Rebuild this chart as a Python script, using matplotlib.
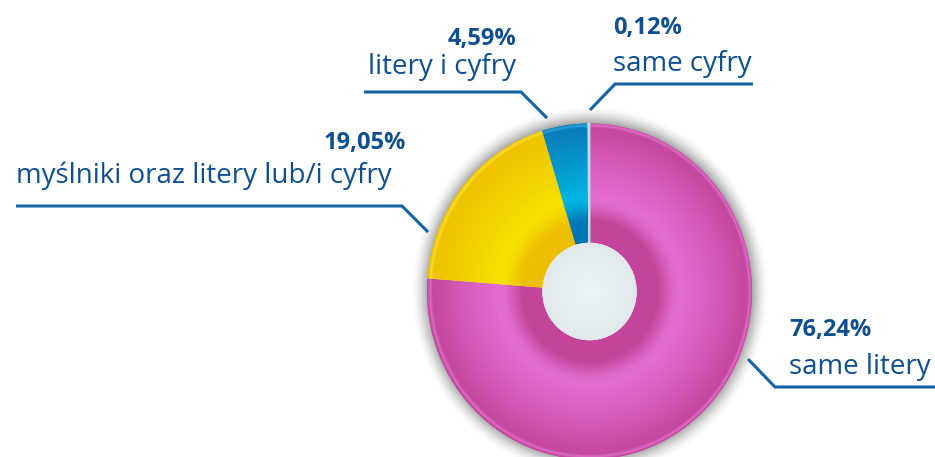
import numpy as np
import matplotlib
matplotlib.use("Agg")
import matplotlib.pyplot as plt
from matplotlib.colors import to_rgb
from matplotlib.patches import Circle

# data
labels = ["same litery", "myślniki oraz litery lub/i cyfry", "litery i cyfry", "same cyfry"]
values = [76.24, 19.05, 4.59, 0.12]
pct_labels = ["76,24%", "19,05%", "4,59%", "0,12%"]

# radial colour profiles (radius fraction, colour) for each slice
profiles = [
    [(0.29, "#C3449A"), (0.42, "#C4469B"), (0.52, "#E06ACB"), (0.56, "#E56CD0"),
     (0.75, "#D85CBC"), (0.97, "#C6479E"), (0.985, "#DD6CC6"), (1.0, "#C24399")],
    [(0.29, "#ECBD00"), (0.42, "#EEC000"), (0.52, "#F5DF00"), (0.56, "#F6E300"),
     (0.75, "#F2D200"), (0.97, "#EFC300"), (0.985, "#F8DC30"), (1.0, "#EDBE00")],
    [(0.29, "#0075B4"), (0.42, "#0078B8"), (0.52, "#00AEDC"), (0.56, "#00B6E1"),
     (0.75, "#0499CF"), (0.97, "#0A7DBB"), (0.985, "#2A9ED6"), (1.0, "#0A78B6")],
    [(0.29, "#A9DCF2"), (1.0, "#BFE6F6")],
]
base_colors = ["#D455B5", "#F2CF00", "#0090C8", "#B0DEF2"]

TEXT = "#0D4F91"
LINE = "#1562A6"
HOLE = 0.29


def radial_image(stops, rr):
    rs = np.array([s[0] for s in stops])
    cols = np.array([to_rgb(s[1]) for s in stops])
    img = np.zeros(rr.shape + (3,))
    for k in range(3):
        img[..., k] = np.interp(rr, rs, cols[:, k])
    return img


fig = plt.figure(figsize=(9.35, 4.57), dpi=100)
fig.patch.set_facecolor("white")

# pie axes placed in pixels: centre (589.5, 291.5), radii 162.5 x 168
cx, cy, rx, ry, lim = 589.5, 291.5, 162.5, 168.0, 1.2
W, H = 935, 457
axp = fig.add_axes([(cx - lim * rx) / W, (H - cy - lim * ry) / H,
                    2 * lim * rx / W, 2 * lim * ry / H])

wedges, _ = axp.pie(values, startangle=90, counterclock=False, radius=1,
                    colors=base_colors,
                    wedgeprops=dict(width=1 - HOLE, linewidth=0))

xs = np.linspace(-lim, lim, 700)
X, Y = np.meshgrid(xs, xs[::-1])
R = np.sqrt(X ** 2 + Y ** 2)

# soft shadow around the ring
sh = np.clip(1 - (R - 0.99) / 0.11, 0, 1) ** 1.6
sh[R < 0.99] = 0
shadow = np.zeros(R.shape + (4,))
shadow[..., :3] = 0.3
shadow[..., 3] = 0.55 * sh
axp.imshow(shadow, extent=(-lim, lim, -lim, lim), aspect="auto", zorder=0,
           interpolation="bilinear")

for w, prof in zip(wedges, profiles):
    w.set_zorder(1)
    im = axp.imshow(radial_image(prof, R), extent=(-lim, lim, -lim, lim),
                    aspect="auto", zorder=2, interpolation="bilinear")
    im.set_clip_path(w)

# the tiny slice needs an outline to be visible
wedges[3].set_edgecolor("#B8E2F4")
wedges[3].set_linewidth(1.3)
wedges[3].set_zorder(2.5)

# centre hole
hole = Circle((0, 0), HOLE, facecolor="#E6EDF1", edgecolor="none", zorder=3)
axp.add_patch(hole)
him = axp.imshow(radial_image([(0, "#EEF5F9"), (HOLE, "#E2E9ED")], R),
                 extent=(-lim, lim, -lim, lim), aspect="auto", zorder=4,
                 interpolation="bilinear")
him.set_clip_path(hole)

axp.set_aspect("auto")
axp.set_xlim(-lim, lim)
axp.set_ylim(-lim, lim)
axp.axis("off")

# overlay axes in pixel coordinates for labels and leader lines
ax = fig.add_axes([0, 0, 1, 1])
ax.set_xlim(0, W)
ax.set_ylim(H, 0)
ax.axis("off")
ax.patch.set_alpha(0)

leaders = [
    ([935, 775, 748], [387, 387, 359]),
    ([16, 402, 428], [206, 206, 232]),
    ([364, 521, 547], [92, 92, 118]),
    ([753, 615, 590], [84, 84, 110]),
]
for lx, ly in leaders:
    ax.plot(lx, ly, color=LINE, lw=2.2, solid_capstyle="butt")

# label anchors: (x, pct x, pct baseline, name baseline, align)
anchors = [
    (789, 789, 336, 374, "left"),
    (16, 406, 149, 183, "left"),
    (516, 516, 45, 74, "right"),
    (613, 613, 34, 71, "left"),
]
for (x, px, yp, yn, ha), name, pct in zip(anchors, labels, pct_labels):
    pha = "right" if px > x or ha == "right" else "left"
    ax.text(px, yp, pct, ha=pha, va="baseline", fontsize=17,
            fontweight="bold", color=TEXT, family="Open Sans")
    ax.text(x, yn, name, ha=ha, va="baseline", fontsize=20,
            color=TEXT, family="Open Sans")

fig.savefig("out.png", dpi=100, facecolor="white")
